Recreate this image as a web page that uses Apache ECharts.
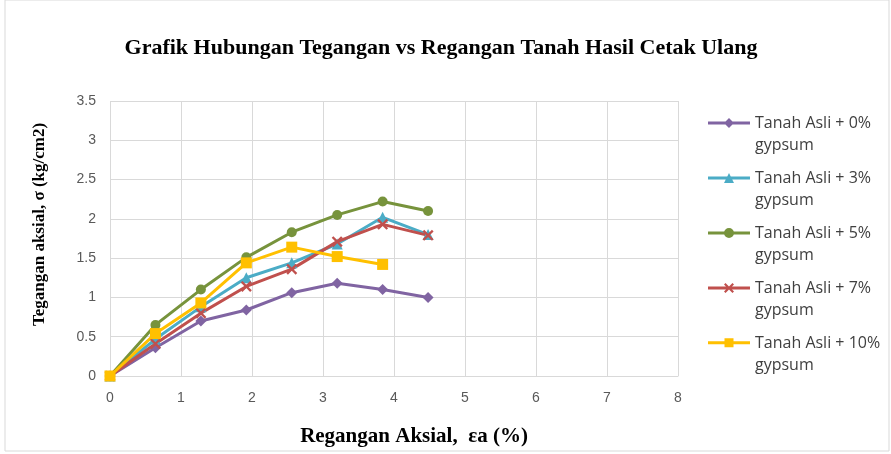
<!DOCTYPE html>
<html>
<head>
<meta charset="UTF-8">
<title>Grafik Hubungan Tegangan vs Regangan</title>
<script src="https://cdn.jsdelivr.net/npm/echarts@6/dist/echarts.min.js"></script>
<style>
  html, body { margin: 0; padding: 0; background: #fff; }
  #main { width: 891px; height: 454px; }
</style>
</head>
<body>
<div id="main"></div>
<script>
// regangan aksial (%)
var regangan = [0, 0.64, 1.28, 1.92, 2.56, 3.2, 3.84, 4.48];
// tegangan aksial (kg/cm2)
var gypsum0  = [0, 0.36, 0.70, 0.84, 1.06, 1.18, 1.10, 1.00];
var gypsum3  = [0, 0.47, 0.88, 1.25, 1.44, 1.68, 2.02, 1.80];
var gypsum5  = [0, 0.65, 1.10, 1.51, 1.83, 2.05, 2.22, 2.10];
var gypsum7  = [0, 0.41, 0.80, 1.14, 1.36, 1.71, 1.93, 1.79];
var gypsum10 = [0, 0.54, 0.93, 1.44, 1.64, 1.52, 1.42];
var names = ['Tanah Asli + 0%\ngypsum', 'Tanah Asli + 3%\ngypsum', 'Tanah Asli + 5%\ngypsum',
             'Tanah Asli + 7%\ngypsum', 'Tanah Asli + 10%\ngypsum'];

function pairs(ys) {
  return ys.map(function (y, i) { return [regangan[i], y]; });
}

var crossPath = 'path://M0,1.5L1.5,0L5,3.5L8.5,0L10,1.5L6.5,5L10,8.5L8.5,10L5,6.5L1.5,10L0,8.5L3.5,5Z';

// legend icons: line + marker on the first text line (tiny dot at bottom keeps the box tall)
var barPath = 'M0,3.5h42v3h-42Z ';
var tail = ' M0,32h0.01v0.01h-0.01Z';
var legendIcons = [
  'path://' + barPath + 'M16,5L21,0L26,5L21,10Z' + tail,
  'path://' + barPath + 'M16,10L21,0L26,10Z' + tail,
  'path://' + barPath + 'M16,5a5,5 0 1,1 10,0a5,5 0 1,1 -10,0Z' + tail,
  'path://' + barPath + 'M16,1.5L17.5,0L21,3.5L24.5,0L26,1.5L22.5,5L26,8.5L24.5,10L21,6.5L17.5,10L16,8.5L19.5,5Z' + tail,
  'path://' + barPath + 'M16.5,0.5h9v9h-9Z' + tail
];

var myChart = echarts.init(document.getElementById('main'));

function line(name, ys, color, symbol, size) {
  return {
    name: name,
    type: 'line',
    data: pairs(ys),
    symbol: symbol,
    symbolSize: size,
    lineStyle: { color: color, width: 3 },
    itemStyle: { color: color },
    z: 3
  };
}

var option = {
  animation: false,
  backgroundColor: '#fff',
  title: {
    text: 'Grafik Hubungan Tegangan vs Regangan Tanah Hasil Cetak Ulang',
    left: 436,
    textAlign: 'center',
    top: 32,
    textStyle: { fontFamily: 'Liberation Serif', fontWeight: 'bold', fontSize: 22, color: '#000' }
  },
  legend: {
    orient: 'vertical',
    left: 703,
    top: 107,
    itemWidth: 42,
    itemHeight: 32,
    itemGap: 11,
    textStyle: { fontFamily: 'Open Sans', fontSize: 16, lineHeight: 22, color: '#404040' },
    data: names.map(function (n, i) { return { name: n, icon: legendIcons[i] }; })
  },
  grid: { left: 110, right: 213, top: 101, bottom: 78 },
  xAxis: {
    type: 'value',
    min: 0, max: 8, interval: 1,
    name: 'Regangan Aksial,  εa (%)',
    nameLocation: 'middle',
    nameGap: 50,
    nameTextStyle: { fontFamily: 'Liberation Serif', fontWeight: 'bold', fontSize: 21, color: '#000', padding: [0, 0, 0, 40] },
    axisLine: { lineStyle: { color: '#d9d9d9' } },
    axisTick: { show: false },
    axisLabel: { color: '#595959', fontSize: 14, margin: 15 },
    splitLine: { lineStyle: { color: '#d9d9d9' } }
  },
  yAxis: {
    type: 'value',
    min: 0, max: 3.5, interval: 0.5,
    name: 'Tegangan aksial, σ (kg/cm2)',
    nameLocation: 'middle',
    nameGap: 62,
    nameTextStyle: { fontFamily: 'Liberation Serif', fontWeight: 'bold', fontSize: 17, color: '#000', padding: [0, 0, 0, 28] },
    axisLine: { show: false },
    axisTick: { show: false },
    axisLabel: { color: '#595959', fontSize: 14, margin: 14 },
    splitLine: { lineStyle: { color: '#d9d9d9' } }
  },
  graphic: [{
    type: 'rect',
    shape: { x: 5, y: 0, width: 884, height: 451 },
    style: { fill: 'none', stroke: '#d9d9d9', lineWidth: 1 },
    silent: true
  }],
  series: [
    line(names[0], gypsum0, '#8064A2', 'diamond', 11),
    line(names[1], gypsum3, '#4BACC6', 'triangle', 11),
    line(names[2], gypsum5, '#77933C', 'circle', 10),
    line(names[3], gypsum7, '#C0504D', crossPath, 11),
    line(names[4], gypsum10, '#FFC000', 'rect', 11)
  ]
};

myChart.setOption(option);
</script>
</body>
</html>
